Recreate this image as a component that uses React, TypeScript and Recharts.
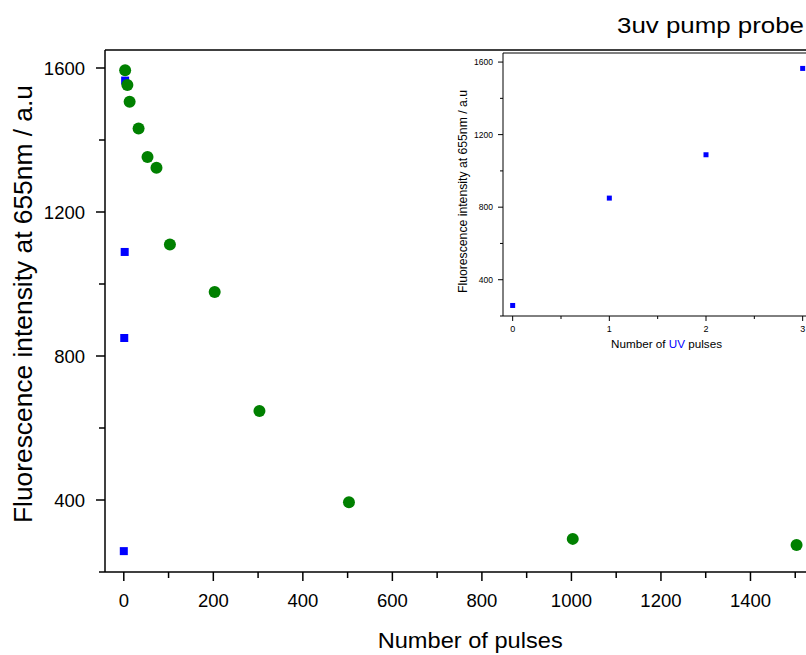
import { ScatterChart, Scatter, XAxis, YAxis } from 'recharts';

// decay under repeated probe pulses (after 3 UV pump pulses)
const probePulses = [3, 8, 13, 33, 53, 73, 103, 203, 303, 503, 1003, 1503];
const probeIntensity = [1594, 1553, 1506, 1432, 1353, 1323, 1110, 978, 647, 394, 292, 275];

// build-up with UV pulses
const uvPulses = [0, 1, 2, 3];
const uvIntensity = [258, 850, 1089, 1565];

const mainXTicks = [0, 100, 200, 300, 400, 500, 600, 700, 800, 900, 1000, 1100, 1200, 1300, 1400, 1500];
const mainYTicks = [200, 400, 600, 800, 1000, 1200, 1400, 1600];
const insetXTicks = [0, 0.5, 1, 1.5, 2, 2.5, 3];
const insetYTicks = [200, 400, 600, 800, 1000, 1200, 1400, 1600];

const FONT = '"Liberation Sans", Arial, Helvetica, sans-serif';

const decayData = probePulses.map((x, i) => ({ x, y: probeIntensity[i] }));
const uvData = uvPulses.map((x, i) => ({ x, y: uvIntensity[i] }));

const BigSquare = (p: any) => <rect x={p.cx - 4} y={p.cy - 4} width={8} height={8} fill="#0000ff" />;
const SmallSquare = (p: any) => <rect x={p.cx - 2.5} y={p.cy - 2.5} width={5} height={5} fill="#0000ff" />;
const Dot = (p: any) => <circle cx={p.cx} cy={p.cy} r={6} fill="#008000" />;

function MainXTick({ x, y, payload }: any) {
  const major = payload.value % 200 === 0;
  return (
    <g>
      <line x1={x} y1={y} x2={x} y2={y + (major ? 9 : 6)} stroke="#000" strokeWidth={1.5} />
      {major && (
        <text x={x} y={y + 35} textAnchor="middle" fontSize={18.5} fill="#000">
          {payload.value}
        </text>
      )}
    </g>
  );
}

function TopTick({ x, y }: any) {
  return <line x1={x} y1={y} x2={x} y2={y + 5} stroke="#000" strokeWidth={1.2} />;
}

function MainYTick({ x, y, payload }: any) {
  const major = payload.value % 400 === 0;
  return (
    <g>
      <line x1={x} y1={y} x2={x - (major ? 9 : 6)} y2={y} stroke="#000" strokeWidth={1.5} />
      {major && (
        <text x={x - 20} y={y + 6.6} textAnchor="end" fontSize={18.5} fill="#000">
          {payload.value}
        </text>
      )}
    </g>
  );
}

function InsetXTick({ x, y, payload }: any) {
  const major = Number.isInteger(payload.value);
  return (
    <g>
      <line x1={x} y1={y} x2={x} y2={y + (major ? 5 : 3)} stroke="#000" strokeWidth={1} />
      {major && (
        <text x={x} y={y + 15.5} textAnchor="middle" fontSize={9} fill="#000">
          {payload.value}
        </text>
      )}
    </g>
  );
}

function InsetYTick({ x, y, payload }: any) {
  const major = payload.value % 400 === 0;
  return (
    <g>
      <line x1={x} y1={y} x2={x - (major ? 5 : 3)} y2={y} stroke="#000" strokeWidth={1} />
      {major && (
        <text x={x - 10} y={y + 3} textAnchor="end" fontSize={8.5} fill="#000">
          {payload.value}
        </text>
      )}
    </g>
  );
}

export default function App() {
  return (
    <div
      style={{
        position: 'fixed',
        left: 0,
        top: 0,
        width: 806,
        height: 655,
        overflow: 'hidden',
        background: '#fff',
        fontFamily: FONT,
      }}
    >
      <style>{'html, body { margin: 0; overflow: hidden; }'}</style>
      <div style={{ position: 'absolute', left: 0, top: 0 }}>
        <ScatterChart width={840} height={655} margin={{ top: 20, right: 0, bottom: 0, left: 0 }}>
          <XAxis
            type="number"
            dataKey="x"
            domain={[-42, 1600]}
            ticks={mainXTicks}
            interval={0}
            tick={<MainXTick />}
            tickLine={false}
            tickSize={0}
            tickMargin={0}
            height={83}
            axisLine={{ stroke: '#000', strokeWidth: 1.5 }}
            allowDataOverflow
          />
          <XAxis
            xAxisId="top"
            orientation="top"
            type="number"
            domain={[-42, 1600]}
            ticks={mainXTicks}
            interval={0}
            tick={<TopTick />}
            tickLine={false}
            tickSize={0}
            tickMargin={0}
            height={30}
            axisLine={{ stroke: '#000', strokeWidth: 1.5 }}
            allowDataOverflow
          />
          <YAxis
            type="number"
            dataKey="y"
            domain={[200, 1650]}
            ticks={mainYTicks}
            interval={0}
            tick={<MainYTick />}
            tickLine={false}
            tickSize={0}
            tickMargin={0}
            width={105}
            axisLine={{ stroke: '#000', strokeWidth: 1.5 }}
            allowDataOverflow
          />
          <Scatter data={uvData} shape={BigSquare} isAnimationActive={false} />
          <Scatter data={decayData} shape={Dot} isAnimationActive={false} />
        </ScatterChart>
      </div>

      <div style={{ position: 'absolute', left: 429, top: 40 }}>
        <ScatterChart width={393} height={330} margin={{ top: 0, right: 0, bottom: 0, left: 0 }}>
          <XAxis
            type="number"
            dataKey="x"
            domain={[-0.1, 3.2]}
            ticks={insetXTicks}
            interval={0}
            tick={<InsetXTick />}
            tickLine={false}
            tickSize={0}
            tickMargin={0}
            height={54}
            axisLine={{ stroke: '#000', strokeWidth: 1 }}
            allowDataOverflow
          />
          <XAxis
            xAxisId="top"
            orientation="top"
            type="number"
            domain={[-0.1, 3.2]}
            tick={false}
            tickLine={false}
            height={13}
            axisLine={{ stroke: '#000', strokeWidth: 1 }}
            allowDataOverflow
          />
          <YAxis
            type="number"
            dataKey="y"
            domain={[200, 1650]}
            ticks={insetYTicks}
            interval={0}
            tick={<InsetYTick />}
            tickLine={false}
            tickSize={0}
            tickMargin={0}
            width={74}
            axisLine={{ stroke: '#000', strokeWidth: 1 }}
            allowDataOverflow
          />
          <Scatter data={uvData} shape={SmallSquare} isAnimationActive={false} />
        </ScatterChart>
      </div>

      <svg
        width={806}
        height={655}
        style={{ position: 'absolute', left: 0, top: 0, pointerEvents: 'none' }}
      >
        <text x={617} y={32.7} fontSize={22.5} textLength={187} lengthAdjust="spacingAndGlyphs" fill="#000">
          3uv pump probe
        </text>
        <text x={377.7} y={648} fontSize={21.5} textLength={185} lengthAdjust="spacingAndGlyphs" fill="#000">
          Number of pulses
        </text>
        <text
          transform="translate(31.5,304) rotate(-90)"
          textAnchor="middle"
          fontSize={25}
          textLength={438}
          lengthAdjust="spacingAndGlyphs"
          fill="#000"
        >
          Fluorescence intensity at 655nm / a.u
        </text>
        <text
          transform="translate(467,191.5) rotate(-90)"
          textAnchor="middle"
          fontSize={12}
          textLength={203}
          lengthAdjust="spacingAndGlyphs"
          fill="#000"
        >
          Fluorescence intensity at 655nm / a.u
        </text>
        <text x={611} y={348} fontSize={11.7} textLength={111} lengthAdjust="spacingAndGlyphs" fill="#000">
          Number of <tspan fill="#0000ff">UV</tspan> pulses
        </text>
      </svg>
    </div>
  );
}
